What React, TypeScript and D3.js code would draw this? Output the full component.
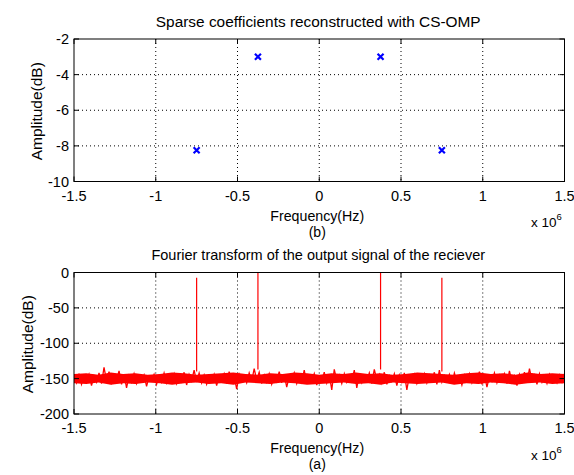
import React from "react";
import * as d3 from "d3";

const W = 574;
const H = 475;

const xTicks = [-1.5e6, -1e6, -0.5e6, 0, 0.5e6, 1e6, 1.5e6];
const xTickLabels = ["-1.5", "-1", "-0.5", "0", "0.5", "1", "1.5"];
const topYTicks = [-10, -8, -6, -4, -2];
const botYTicks = [-200, -150, -100, -50, 0];

// Sparse coefficients (CS-OMP)
const coefFreq = [-0.75e6, -0.375e6, 0.375e6, 0.75e6];
const coefAmp = [-8.25, -3, -3, -8.25];

// Fourier transform peaks
const peakFreq = [-0.75e6, -0.375e6, 0.375e6, 0.75e6];
const peakAmp = [-7.5, 0, 0, -7.5];
const peakBase = [-140, -137, -137, -140];

// Noise floor samples (dB), equally spaced from -1.5e6 to 1.5e6
const noise = [
  -146,-156,-143,-158,-147,-154,-144,-160,-146,-155,
  -142,-157,-134,-153,-140,-156,-145,-152,-139,-158,
  -144,-163,-146,-155,-143,-157,-148,-154,-145,-161,
  -147,-153,-144,-158,-146,-155,-142,-156,-145,-152,
  -143,-157,-146,-154,-141,-159,-144,-153,-138,-155,
  -142,-156,-145,-158,-147,-154,-144,-160,-146,-153,
  -143,-157,-140,-155,-146,-165,-144,-154,-147,-156,
  -142,-154,-136,-152,-141,-157,-145,-155,-143,-158,
  -146,-154,-140,-156,-144,-162,-147,-153,-142,-157,
  -145,-155,-138,-157,-146,-153,-143,-159,-147,-154,
  -141,-156,-144,-166,-137,-153,-145,-157,-143,-155,
  -146,-154,-138,-163,-144,-156,-147,-153,-142,-157,
  -137,-152,-144,-156,-141,-158,-146,-154,-143,-160,
  -145,-155,-142,-166,-146,-153,-144,-157,-147,-154,
  -143,-156,-145,-153,-141,-158,-138,-155,-146,-154,
  -144,-157,-142,-154,-147,-159,-145,-153,-143,-156,
  -146,-155,-140,-158,-144,-162,-147,-154,-142,-156,
  -145,-153,-143,-157,-139,-155,-146,-160,-144,-154,
  -141,-156,-136,-153,-145,-158,-143,-155,-146,-157,
  -144,-154,-147,-156,-145,-155,-143,
];

// Dense core of the noise band (upper / lower edge), equally spaced
const coreHi = [-143.5,-142.5,-144.5,-141.5,-143.5,-142.5,-144.5,-143.5,-141.5,-142.5,-144.5,-143.5,-142.5,-141.5,-143.5,-144.5,-142.5,-143.5,-141.5,-142.5,-144.5,-142.5,-143.5,-141.5,-143.5,-142.5,-144.5,-143.5,-141.5,-142.5,-143.5,-144.5,-142.5,-141.5,-143.5,-142.5,-144.5,-141.5,-143.5,-142.5,-143.5];
const coreLo = [-156.5,-157.5,-155.5,-158.5,-156.5,-157.5,-155.5,-156.5,-158.5,-156.5,-155.5,-157.5,-156.5,-158.5,-155.5,-156.5,-157.5,-155.5,-156.5,-158.5,-157.5,-156.5,-155.5,-157.5,-156.5,-158.5,-155.5,-156.5,-157.5,-156.5,-155.5,-158.5,-156.5,-157.5,-155.5,-156.5,-158.5,-156.5,-155.5,-157.5,-156.5];

const FONT = "'Liberation Sans', Arial, sans-serif";
const L = 74, R = 564.5;
const top1 = 39, bot1 = 181.5;
const top2 = 272.5, bot2 = 414;

function Axes({ top, bottom, yTicks, yDomain, title, titleSize, titleY, tickLabelY, xLabelY, subLabel, subLabelY, expY, yLabelX, children }: any) {
  const x = d3.scaleLinear().domain([-1.5e6, 1.5e6]).range([L, R]);
  const y = d3.scaleLinear().domain(yDomain).range([bottom, top]);
  const tl = 5;
  return (
    <g>
      <rect x={L} y={top} width={R - L} height={bottom - top} fill="#fff" />
      {xTicks.slice(1, -1).map((t, i) => (
        <line key={"gx" + i} x1={x(t)} x2={x(t)} y1={top} y2={bottom} stroke="#000" strokeWidth={1} strokeDasharray="1 3" />
      ))}
      {yTicks.slice(1, -1).map((t: number, i: number) => (
        <line key={"gy" + i} x1={L} x2={R} y1={y(t)} y2={y(t)} stroke="#000" strokeWidth={1} strokeDasharray="1 3" />
      ))}
      {children(x, y)}
      {xTicks.map((t, i) => (
        <g key={"tx" + i}>
          <line x1={x(t)} x2={x(t)} y1={bottom} y2={bottom - tl} stroke="#000" />
          <line x1={x(t)} x2={x(t)} y1={top} y2={top + tl} stroke="#000" />
          <text x={x(t)} y={tickLabelY} fontSize={14.5} fontFamily={FONT} textAnchor="middle" fill="#000">{xTickLabels[i]}</text>
        </g>
      ))}
      {yTicks.map((t: number, i: number) => (
        <g key={"ty" + i}>
          <line x1={L} x2={L + tl} y1={y(t)} y2={y(t)} stroke="#000" />
          <line x1={R} x2={R - tl} y1={y(t)} y2={y(t)} stroke="#000" />
          <text x={L - 5} y={y(t) + 5} fontSize={14.5} fontFamily={FONT} textAnchor="end" fill="#000">{t}</text>
        </g>
      ))}
      <rect x={L} y={top} width={R - L} height={bottom - top} fill="none" stroke="#000" strokeWidth={1} />
      <text x={(L + R) / 2 - 1} y={titleY} fontSize={titleSize} fontFamily={FONT} textAnchor="middle" fill="#000">{title}</text>
      <text x={(L + R) / 2 - 2} y={xLabelY} fontSize={14.2} fontFamily={FONT} textAnchor="middle" fill="#000">Frequency(Hz)</text>
      <text x={(L + R) / 2 - 2} y={subLabelY} fontSize={14} fontFamily={FONT} textAnchor="middle" fill="#000">{subLabel}</text>
      <text x={531} y={expY} fontSize={13.5} fontFamily={FONT} fill="#000">x 10<tspan fontSize={9.5} dy={-7}>6</tspan></text>
      <text transform={`translate(${yLabelX},${(top + bottom) / 2 + 1}) rotate(-90)`} fontSize={15.5} fontFamily={FONT} textAnchor="middle" fill="#000">Amplitude(dB)</text>
    </g>
  );
}

export default function App() {
  const n = noise.length;
  const idx = d3.scaleLinear().domain([0, n - 1]).range([-1.5e6, 1.5e6]);
  const cidx = d3.scaleLinear().domain([0, coreHi.length - 1]).range([-1.5e6, 1.5e6]);
  return (
    <svg width={W} height={H} style={{ position: "absolute", left: 0, top: 0, background: "#fff" }}>
      <rect width={W} height={H} fill="#fff" />
      <defs>
        <clipPath id="clip2"><rect x={L} y={top2} width={R - L} height={bot2 - top2} /></clipPath>
      </defs>
      <Axes top={top1} bottom={bot1} yTicks={topYTicks} yDomain={[-10, -2]}
        title="Sparse coefficients reconstructed with CS-OMP" titleSize={15.4} titleY={27}
        tickLabelY={201} xLabelY={221} subLabel="(b)" subLabelY={237} expY={227} yLabelX={42}>
        {(x: any, y: any) => (
          <g>
            {coefFreq.map((f, i) => {
              const cx = x(f), cy = y(coefAmp[i]), s = 3;
              return (
                <path key={i} d={`M${cx - s},${cy - s}L${cx + s},${cy + s}M${cx - s},${cy + s}L${cx + s},${cy - s}`} stroke="#0000ff" strokeWidth={2.2} fill="none" />
              );
            })}
          </g>
        )}
      </Axes>
      <Axes top={top2} bottom={bot2} yTicks={botYTicks} yDomain={[-200, 0]}
        title="Fourier transform of the output signal of the reciever" titleSize={14.5} titleY={260}
        tickLabelY={433} xLabelY={453} subLabel="(a)" subLabelY={469} expY={460} yLabelX={33}>
        {(x: any, y: any) => {
          const line = d3.line<number>().x((_, i) => x(idx(i))).y((d) => y(d));
          const area = d3.area<number>().x((_, i) => x(cidx(i))).y0((_, i) => y(coreLo[i])).y1((d) => y(d));
          return (
            <g clipPath="url(#clip2)">
              <path d={area(coreHi) || ""} fill="#ff0000" stroke="none" />
              <path d={line(noise) || ""} fill="none" stroke="#ff0000" strokeWidth={1.3} strokeLinejoin="miter" />
              {peakFreq.map((f, i) => (
                <line key={i} x1={x(f)} x2={x(f)} y1={y(peakBase[i])} y2={y(peakAmp[i])} stroke="#ff0000" strokeWidth={1.2} />
              ))}
            </g>
          );
        }}
      </Axes>
    </svg>
  );
}
